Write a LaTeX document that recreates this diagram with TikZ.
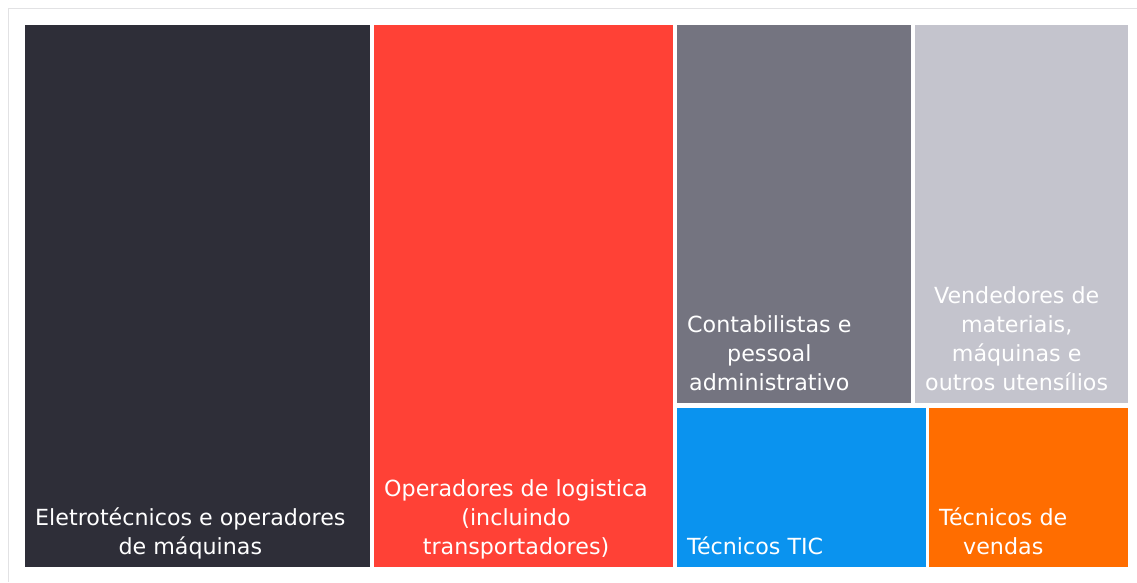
\documentclass[tikz,border=0pt]{standalone}
\usepackage{fontspec}
\setmainfont{DejaVu Sans}
\definecolor{eydark}{HTML}{2E2E38}
\definecolor{eyred}{HTML}{FF4136}
\definecolor{eygray}{HTML}{747480}
\definecolor{eylight}{HTML}{C4C4CD}
\definecolor{eyblue}{HTML}{0A93EF}
\definecolor{eyorange}{HTML}{FF6D00}
\definecolor{framegray}{HTML}{E2E2E4}

\begin{document}
\begin{tikzpicture}[x=1pt,y=-1pt]
    \tikzstyle{tile}=[draw=none,inner sep=0pt,outer sep=0pt,anchor=north west]
    \tikzstyle{caption}=[text=white,anchor=south west,align=center,inner xsep=10pt,inner ysep=12.5pt,text depth=0pt,font=\fontsize{22.2}{29}\selectfont]
    \useasboundingbox (0,0) rectangle (1137,582);
    \fill[white] (0,0) rectangle (1137,582);
    \draw[framegray,line width=1.5pt] (8.5,582) -- (8.5,8.5) -- (1137,8.5);
    % tiles
    \node[tile,fill=eydark,minimum width=345pt,minimum height=542pt] (eletro) at (25,25) {};
    \node[tile,fill=eyred,minimum width=299pt,minimum height=542pt] (logist) at (374,25) {};
    \node[tile,fill=eygray,minimum width=234pt,minimum height=378pt] (contab) at (677,25) {};
    \node[tile,fill=eylight,minimum width=213pt,minimum height=378pt] (vended) at (915,25) {};
    \node[tile,fill=eyblue,minimum width=249pt,minimum height=159pt] (tic) at (677,408) {};
    \node[tile,fill=eyorange,minimum width=199pt,minimum height=159pt] (vendas) at (929,408) {};
    % captions
    \node[caption] (eletrotxt) at (eletro.south west) {Eletrotécnicos e operadores\\de máquinas};
    \node[caption] (logisttxt) at (logist.south west) {Operadores de logistica\\(incluindo\\transportadores)};
    \node[caption] (contabtxt) at (contab.south west) {Contabilistas e\\pessoal\\administrativo};
    \node[caption] (vendedtxt) at (vended.south west) {Vendedores de\\materiais,\\máquinas e\\outros utensílios};
    \node[caption] (tictxt) at (tic.south west) {Técnicos TIC};
    \node[caption] (vendastxt) at (vendas.south west) {Técnicos de\\vendas};
\end{tikzpicture}
\end{document}
